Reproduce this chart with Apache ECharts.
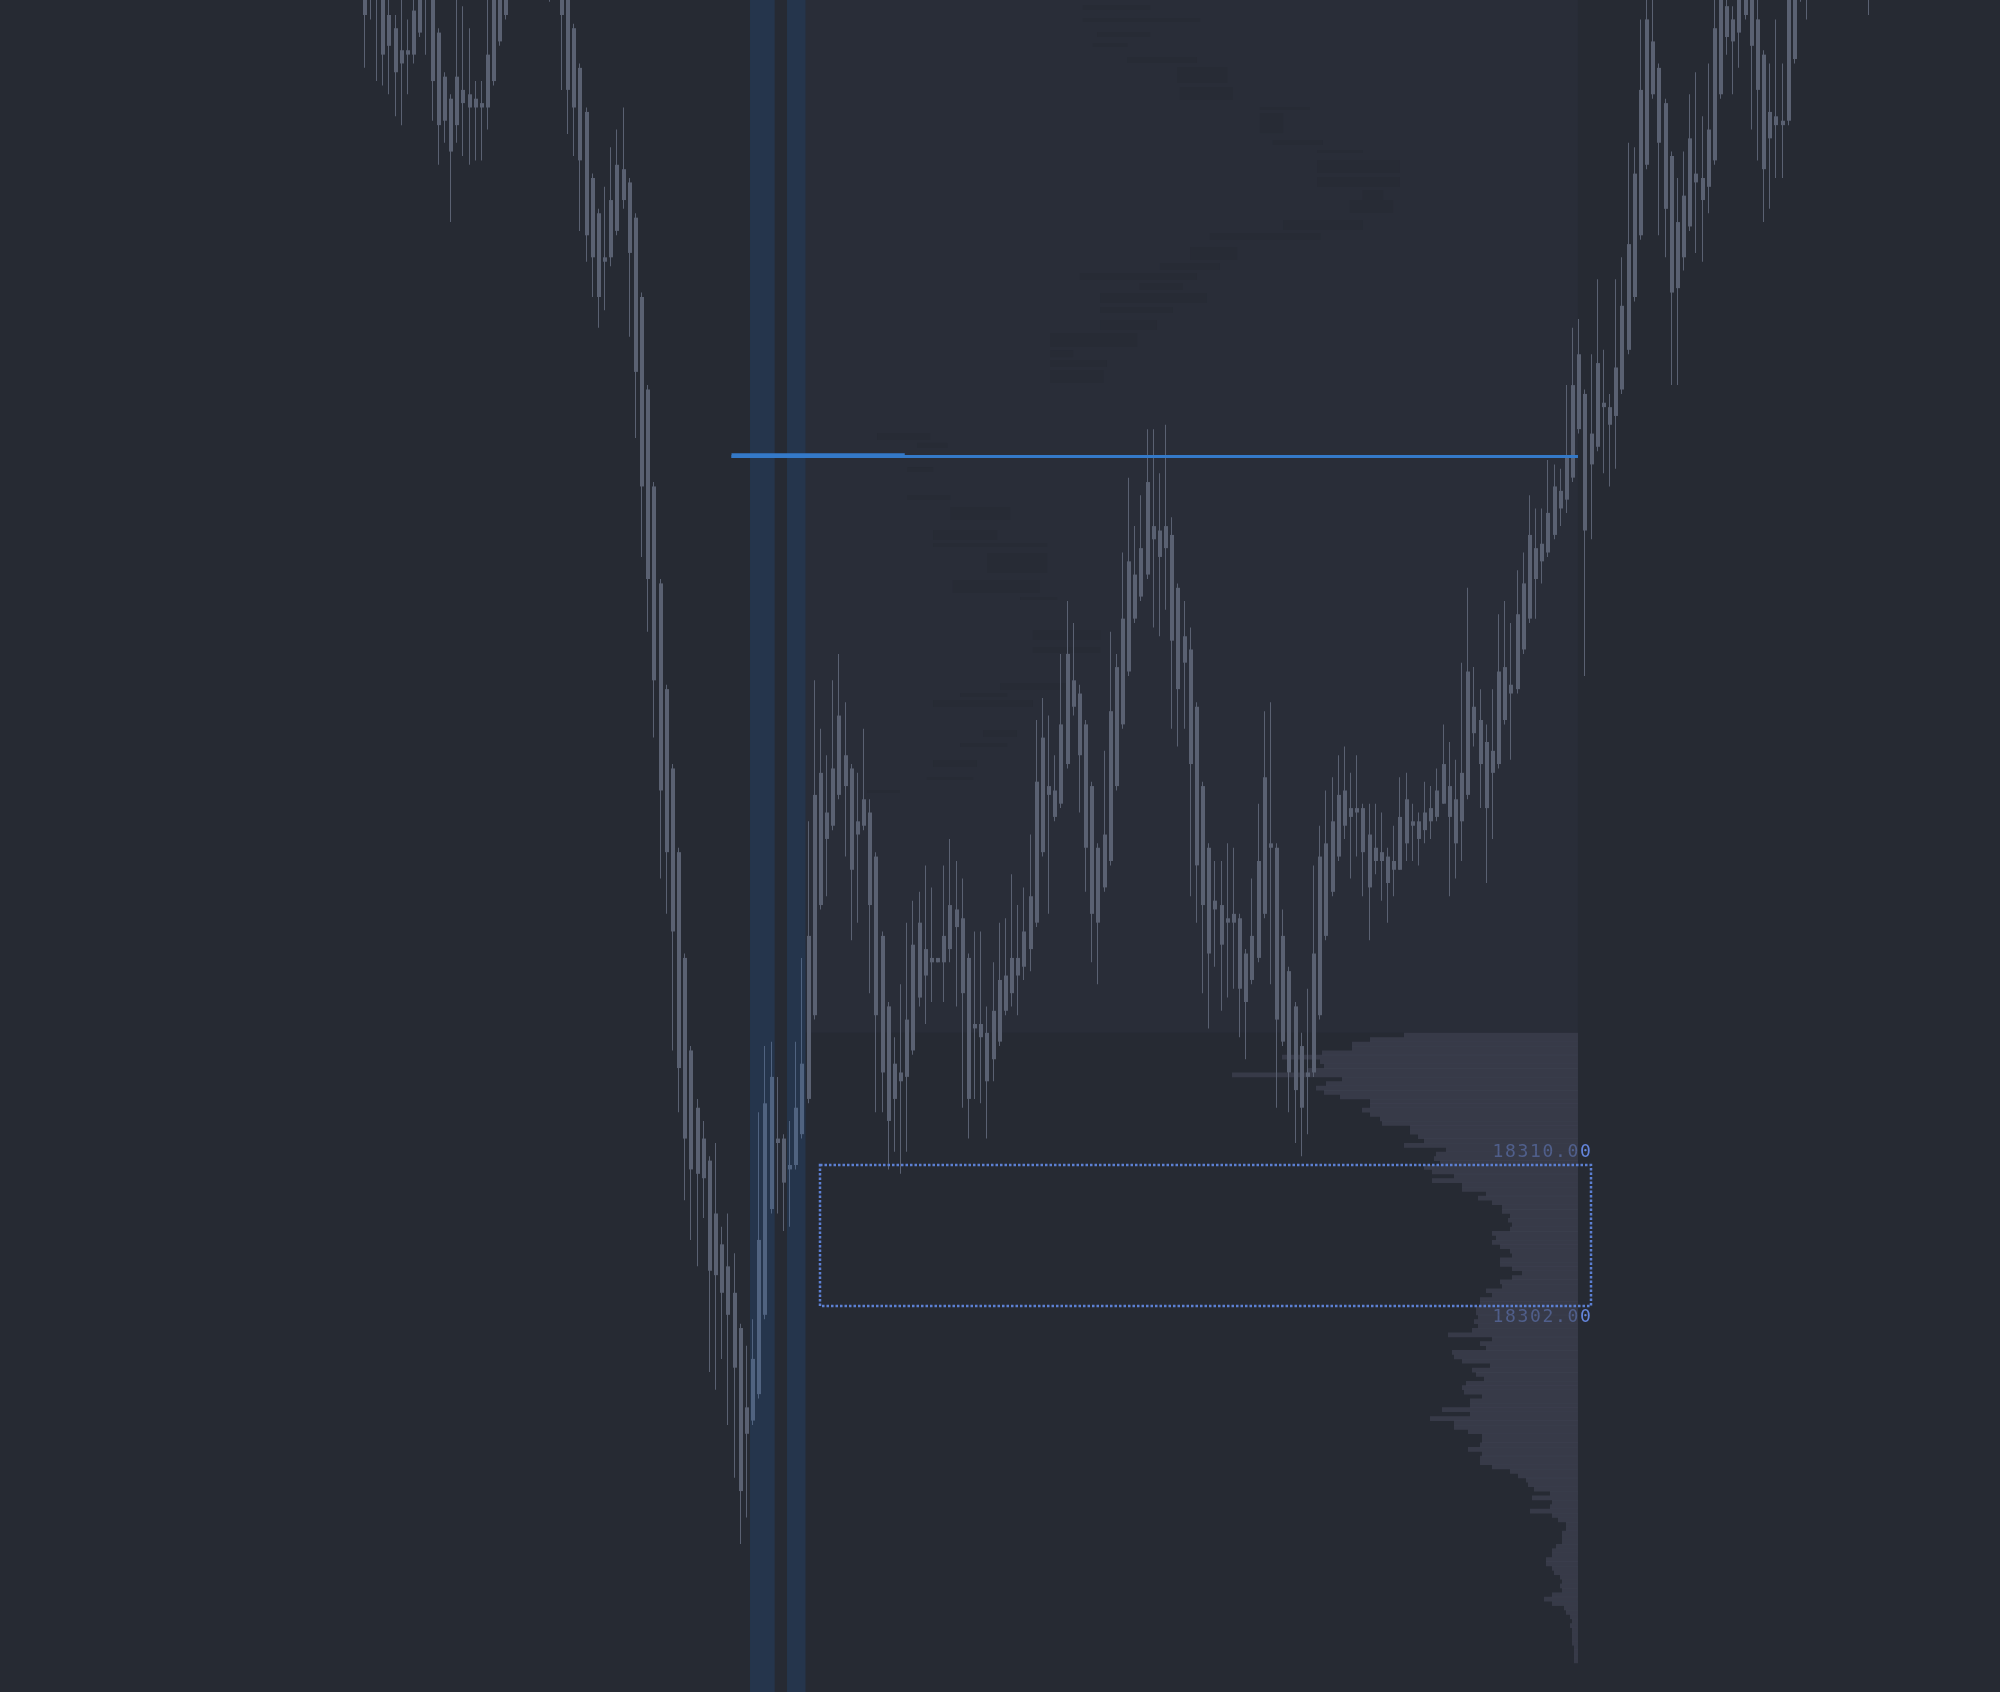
<!DOCTYPE html>
<html><head><meta charset="utf-8">
<script src="https://cdn.jsdelivr.net/npm/echarts@6/dist/echarts.min.js"></script>
<style>html,body{margin:0;padding:0;background:#262a33;}#c{width:2000px;height:1692px;}</style>
</head><body><div id="c"></div>
<script>
// ---- candle data (index = bar number) ----
const opens = [
18378.0,18378.5,18377.75,18377.5,18375.25,18374.5,18373.25,18373.25,18375.5,18377.0,
18378.0,18376.75,18374.25,18371.75,18370.5,18369.0,18371.0,18370.75,18370.5,18370.25,
18370.0,18371.5,18373.75,18375.25,18378.0,18379.5,18381.0,18380.0,18381.25,18380.25,
18378.5,18377.25,18378.0,18376.25,18374.5,18372.25,18369.75,18366.0,18364.0,18361.5,
18361.5,18363.0,18366.5,18365.75,18363.75,18359.25,18354.0,18348.5,18343.0,18337.0,
18332.5,18327.75,18321.75,18316.5,18313.25,18311.5,18310.25,18307.25,18305.5,18304.25,
18302.75,18300.75,18296.25,18295.5,18297.0,18301.5,18307.5,18311.5,18311.5,18310.0,
18310.0,18311.75,18313.75,18318.5,18324.75,18330.0,18329.25,18331.0,18333.25,18332.5,
18329.5,18329.25,18330.0,18327.5,18323.0,18319.0,18313.75,18314.75,18315.0,18316.5,
18319.5,18322.25,18321.75,18321.75,18321.5,18322.25,18324.5,18324.0,18321.75,18318.0,
18318.0,18317.5,18316.0,18317.0,18318.75,18319.75,18321.75,18321.25,18322.25,18323.75,
18327.75,18331.5,18331.25,18330.5,18332.75,18337.5,18336.75,18335.0,18331.5,18328.0,
18325.75,18327.25,18331.5,18335.0,18338.0,18343.5,18342.25,18343.5,18346.25,18346.0,
18345.0,18345.75,18342.75,18340.0,18339.25,18336.0,18331.5,18328.0,18325.0,18324.75,
18324.0,18324.25,18324.0,18322.0,18320.5,18321.75,18324.25,18328.25,18328.0,18317.0,
18321.0,18319.0,18316.75,18315.25,18315.25,18318.5,18323.0,18325.5,18327.5,18329.25,
18330.25,18330.25,18330.25,18328.75,18328.0,18327.75,18327.5,18327.25,18326.75,18328.25,
18329.5,18329.5,18329.0,18329.5,18329.75,18330.5,18331.5,18330.75,18329.5,18331.0,
18336.0,18335.25,18334.0,18332.25,18332.75,18338.25,18336.75,18337.0,18339.25,18341.0,
18345.0,18344.25,18344.75,18345.75,18348.25,18347.75,18349.0,18351.75,18353.75,18349.75,
18350.75,18353.25,18353.0,18352.5,18354.0,18356.25,18359.25,18362.75,18366.75,18373.75,
18372.25,18370.25,18367.25,18359.75,18365.0,18363.25,18366.25,18366.0,18365.5,18367.0,
18370.75,18375.75,18375.0,18376.5,18377.5,18377.0,18375.0,18373.0,18369.75,18369.5,
18369.25,18369.25,18372.75,18376.25,18379.0,18379.0,18380.5,18379.5,18381.0,18382.25,
18381.0,18380.0,18378.5,18379.25,18378.25];
const closes = [
18375.25,18377.0,18376.5,18373.0,18373.5,18372.0,18372.5,18373.0,18373.0,18374.25,
18376.75,18371.5,18369.0,18369.25,18367.5,18371.75,18370.25,18370.0,18370.0,18370.0,
18373.0,18376.5,18377.0,18378.0,18379.5,18381.0,18380.0,18381.25,18380.25,18378.5,
18377.25,18378.0,18375.25,18371.0,18370.0,18367.0,18362.75,18361.5,18359.25,18361.25,
18364.75,18366.75,18364.75,18361.75,18355.0,18348.5,18343.25,18337.5,18331.25,18327.75,
18323.25,18315.5,18311.5,18309.75,18309.5,18309.25,18304.0,18303.75,18302.75,18301.5,
18298.5,18291.5,18294.75,18299.0,18305.75,18313.5,18315.0,18311.25,18309.0,18309.75,
18313.25,18315.75,18323.0,18331.0,18332.25,18328.5,18332.5,18335.5,18331.5,18326.75,
18328.75,18330.75,18324.75,18318.5,18315.25,18312.5,18315.75,18315.25,18318.25,18322.5,
18323.75,18320.75,18321.5,18321.5,18323.0,18324.75,18323.5,18319.75,18313.75,18317.75,
18317.25,18314.75,18318.75,18320.5,18320.75,18321.75,18320.75,18323.25,18325.25,18331.75,
18334.25,18331.0,18329.75,18335.0,18339.0,18336.0,18333.25,18328.0,18324.25,18323.75,
18328.75,18335.75,18338.25,18341.0,18344.25,18341.0,18345.0,18348.75,18345.5,18344.5,
18346.25,18339.75,18337.0,18338.5,18332.75,18327.0,18324.75,18322.0,18324.5,18322.5,
18323.75,18323.75,18320.0,18319.25,18323.0,18327.25,18332.0,18328.0,18318.25,18323.0,
18315.25,18314.25,18313.25,18315.0,18322.0,18327.5,18328.25,18329.5,18331.0,18331.25,
18329.75,18330.0,18327.75,18325.75,18327.25,18327.25,18326.0,18326.75,18329.75,18330.75,
18329.25,18328.5,18330.0,18330.25,18331.25,18332.75,18329.75,18328.25,18332.25,18338.0,
18334.5,18332.75,18330.25,18333.5,18338.0,18335.25,18337.25,18341.25,18343.0,18345.75,
18343.25,18345.25,18347.0,18348.5,18347.25,18350.25,18354.25,18356.0,18346.0,18351.5,
18355.5,18353.0,18352.0,18355.25,18358.75,18362.25,18366.25,18371.0,18375.0,18370.75,
18368.0,18364.25,18359.5,18363.5,18361.5,18368.25,18365.75,18364.75,18368.75,18374.5,
18376.75,18374.0,18373.75,18374.25,18375.25,18373.5,18371.0,18366.5,18368.25,18369.0,
18369.0,18376.5,18377.5,18379.0,18377.75,18380.5,18379.5,18381.0,18382.25,18381.0,
18380.0,18378.5,18379.25,18378.25,18377.0];
const lows = [
18372.25,18375.0,18371.5,18371.25,18370.75,18369.5,18369.0,18370.75,18372.5,18374.0,
18373.0,18369.25,18366.75,18368.0,18363.5,18368.0,18367.25,18366.75,18367.0,18367.0,
18368.75,18371.25,18373.5,18375.0,18377.5,18378.75,18379.25,18379.5,18379.0,18377.5,
18376.0,18376.5,18371.0,18368.5,18367.25,18363.0,18361.25,18359.25,18357.5,18358.5,
18361.0,18362.75,18364.25,18357.0,18351.25,18344.5,18340.25,18334.25,18326.25,18324.25,
18316.5,18313.0,18308.0,18305.75,18304.25,18307.0,18298.25,18297.25,18299.0,18295.25,
18292.25,18288.5,18290.0,18295.25,18296.75,18301.25,18307.25,18307.25,18306.25,18306.5,
18309.75,18311.5,18313.5,18318.25,18324.5,18325.25,18329.0,18330.75,18327.5,18322.75,
18323.75,18329.0,18319.75,18313.0,18313.0,18309.75,18310.75,18309.5,18310.75,18316.25,
18319.0,18318.0,18319.25,18321.5,18319.25,18321.5,18319.0,18313.25,18311.5,18313.75,
18313.5,18311.5,18314.75,18316.75,18318.5,18319.0,18318.5,18320.5,18321.0,18323.5,
18327.5,18324.25,18329.5,18330.25,18332.5,18335.5,18330.0,18325.5,18321.5,18320.25,
18325.5,18327.0,18331.25,18334.75,18337.75,18340.75,18342.0,18343.25,18340.5,18340.0,
18341.5,18334.75,18333.75,18334.75,18325.25,18323.75,18319.75,18317.75,18321.25,18318.75,
18319.5,18320.0,18317.25,18316.0,18320.25,18321.5,18324.0,18320.25,18313.25,18316.75,
18313.0,18311.25,18310.5,18311.75,18315.0,18318.25,18322.75,18325.25,18327.25,18328.5,
18326.25,18327.5,18325.25,18322.75,18326.5,18325.0,18323.75,18325.25,18326.75,18327.25,
18327.25,18327.0,18328.25,18328.5,18329.5,18330.5,18325.25,18326.25,18327.25,18330.75,
18333.75,18330.25,18326.0,18328.5,18332.5,18335.0,18333.0,18336.75,18339.0,18340.75,
18341.0,18343.0,18344.5,18345.5,18346.25,18347.0,18348.75,18351.5,18337.75,18345.5,
18350.5,18349.25,18348.5,18349.5,18353.75,18356.0,18359.0,18362.5,18366.5,18370.5,
18362.75,18361.5,18354.25,18354.25,18360.75,18363.0,18361.75,18361.25,18364.0,18366.75,
18370.5,18373.0,18370.75,18372.25,18375.0,18368.75,18367.0,18363.5,18364.25,18366.0,
18366.0,18369.0,18372.5,18376.0,18375.0,18378.25,18378.5,18379.0,18380.25,18380.5,
18378.75,18377.5,18377.25,18377.0,18375.25];
const highs = [
18379.5,18379.0,18378.5,18378.25,18377.0,18375.25,18376.5,18375.0,18376.5,18377.5,
18378.75,18377.25,18374.5,18372.0,18370.75,18376.5,18375.75,18374.5,18371.5,18371.5,
18376.25,18377.0,18377.75,18378.5,18380.25,18381.5,18382.0,18382.25,18381.75,18380.75,
18379.0,18378.75,18378.5,18376.75,18374.75,18372.5,18370.0,18366.25,18364.25,18365.5,
18367.75,18368.75,18370.0,18366.0,18364.0,18359.5,18354.25,18348.75,18343.25,18337.25,
18332.75,18328.0,18322.0,18316.75,18313.75,18312.5,18310.5,18311.25,18306.5,18307.25,
18305.0,18301.0,18299.75,18301.25,18313.0,18316.75,18317.0,18315.0,18311.75,18312.5,
18317.0,18321.75,18329.5,18337.5,18334.75,18333.25,18337.5,18339.0,18336.25,18332.75,
18332.25,18334.75,18330.75,18327.75,18323.25,18319.25,18317.25,18320.25,18323.75,18325.0,
18325.5,18327.0,18325.75,18321.75,18327.0,18328.5,18327.25,18326.25,18322.0,18323.25,
18323.25,18319.0,18321.5,18323.75,18324.0,18326.5,18324.75,18325.75,18328.75,18335.25,
18336.5,18335.5,18333.25,18339.0,18342.0,18340.75,18337.25,18335.25,18331.75,18328.25,
18333.5,18340.25,18339.0,18344.75,18349.0,18346.25,18348.0,18351.75,18351.75,18349.25,
18352.0,18346.75,18343.0,18342.0,18340.5,18336.25,18331.75,18328.25,18327.25,18327.25,
18328.25,18328.0,18324.25,18322.25,18326.25,18330.5,18335.75,18336.25,18328.25,18324.5,
18321.25,18319.25,18317.5,18320.0,18327.0,18329.25,18331.25,18332.0,18333.25,18333.75,
18332.25,18333.25,18330.5,18330.5,18330.5,18330.0,18328.0,18329.25,18332.0,18332.25,
18330.5,18330.0,18331.75,18331.5,18332.5,18335.0,18334.0,18333.0,18338.5,18342.75,
18338.25,18337.0,18335.0,18337.0,18341.25,18342.0,18340.75,18343.75,18344.75,18348.0,
18347.25,18347.25,18350.0,18349.75,18349.5,18354.25,18357.5,18358.0,18354.0,18356.0,
18360.25,18356.25,18353.75,18360.25,18361.5,18368.0,18367.75,18375.0,18377.0,18376.5,
18372.5,18370.5,18367.5,18366.0,18367.5,18370.75,18372.0,18369.5,18372.5,18376.5,
18377.25,18376.25,18375.75,18377.0,18378.0,18377.75,18376.5,18373.25,18372.5,18375.0,
18372.5,18377.0,18378.0,18379.5,18379.5,18381.0,18381.25,18381.75,18382.75,18383.0,
18381.5,18380.5,18380.0,18379.75,18378.75];

// ---- volume profile (0.25 levels, from top price downwards) ----
const profileTopPrice = 18317.5;
const profileTick = 0.25;
const profileVolumes = [
87,104,113,113,128,148,129,127,135,173,
118,126,131,127,119,104,104,108,104,99,
98,84,84,80,77,87,66,71,72,69,
77,73,62,73,58,58,46,50,43,38,
38,34,35,33,34,43,41,43,39,34,
33,39,39,33,28,33,39,38,46,43,
49,49,51,51,50,52,50,53,65,43,
49,46,63,62,58,44,53,51,47,56,
58,57,48,54,54,68,54,74,62,62,
55,48,48,49,55,48,49,49,43,34,
30,26,25,22,14,23,13,14,24,13,
10,6,6,8,8,8,11,13,13,16,
16,13,12,9,8,9,8,13,17,13,
7,6,4,3,4,3,3,3,3,2,
2,2,2];

// ---- faint liquidity streaks in the upper zone: [high price, low price, from bar, to bar] ----
const streakHigh = [18375.82,18375.08,18374.28,18373.66,18372.87,18372.30,18371.16,18370.03,18369.69,18368.16,
  18367.59,18367.02,18366.06,18365.32,18364.75,18363.62,18362.88,18362.09,18361.18,18360.61,
  18360.04,18359.48,18358.68,18357.94,18357.21,18356.24,18355.67,18355.11,
  18351.53,18350.97,18349.60,18348.02,18347.33,18346.03,18345.29,18344.72,18343.19,18342.23,
  18340.36,18339.39,18337.35,18336.78,18336.38,18334.68,18333.94,18332.98,18332.02,18331.28];
const streakLow = [18375.53,18374.85,18374.00,18373.43,18372.53,18371.39,18370.43,18369.86,18368.55,18367.87,
  18367.42,18366.28,18365.49,18364.75,18364.01,18363.05,18362.48,18361.35,18360.78,18360.21,
  18359.65,18358.91,18358.34,18357.38,18356.41,18355.84,18355.28,18354.37,
  18351.14,18350.68,18349.32,18347.73,18346.60,18345.46,18345.06,18343.59,18342.45,18342.06,
  18339.79,18339.05,18336.95,18336.55,18335.99,18334.28,18333.72,18332.58,18331.84,18331.11];
const streakFrom = [116.5,116.5,118.8,118.1,123.7,131.8,132.2,145.2,145.2,147.3,
  154.5,154.5,154.5,161.9,159.8,149.0,137.1,133.9,129.0,116.0,
  125.7,119.3,119.3,119.3,111.2,111.2,111.2,111.2,
  83.1,89.6,88.0,88.0,95.0,92.2,92.2,101.0,95.4,106.3,
  108.4,108.4,103.1,96.6,92.2,100.3,96.6,92.2,91.2,81.5];
const streakTo = [127.4,135.5,127.4,123.7,135.0,139.9,140.8,153.3,149.0,155.4,
  161.9,167.9,167.9,165.2,166.8,161.9,155.0,141.5,138.7,135.0,
  132.7,136.6,131.1,128.5,125.3,114.9,120.4,119.8,
  91.7,94.5,92.2,95.0,104.7,102.6,110.7,110.7,109.5,112.3,
  119.3,119.3,113.9,104.2,108.4,105.8,104.2,99.3,98.7,86.8];

// ---- annotations ----
const sessionBands = [[62.5, 66.5], [68.5, 71.5]];   // bar index ranges
const levelPrice = 18350.2;
const levelHeavyPrice = 18350.25;
const levelStart = 59.5, levelHeavyEnd = 87.6, profileRight = 196.8, zoneLeft = 71.5;
const boxHigh = 18310.0, boxLow = 18302.0;
const boxStart = 73.85, boxEnd = 198.9;
const boxLabels = ['18310.00', '18302.00'];

const X_MIN = -59.157, X_MAX = 265.255, Y_MIN = 18280.1, Y_MAX = 18376.1;
const PROFILE_UNIT = 0.3244; // bar-index width per contract

const CANDLE = '#5a6172';
const chart = echarts.init(document.getElementById('c'), null, {renderer: 'canvas', width: 2000, height: 1692});

const candleData = opens.map((o, i) => [i, o, closes[i], lows[i], highs[i]]);
const streakData = streakHigh.map((h, i) => [streakFrom[i], h, streakTo[i], streakLow[i]]);

chart.setOption({
  backgroundColor: '#262a33',
  animation: false,
  grid: {left: 0, right: 0, top: 0, bottom: 0},
  xAxis: {type: 'value', min: X_MIN, max: X_MAX, show: false},
  yAxis: {type: 'value', min: Y_MIN, max: Y_MAX, show: false},
  series: [
    { // zone background
      type: 'custom', z: 1, clip: false, silent: true, data: [[0, 0]],
      renderItem: (p, api) => {
        const a = api.coord([zoneLeft, Y_MAX]);
        const b = api.coord([profileRight, profileTopPrice]);
        return {type: 'rect', shape: {x: a[0], y: a[1], width: b[0] - a[0], height: b[1] - a[1]},
                style: {fill: '#292d38'}};
      }
    },
    { // faint streaks
      type: 'custom', z: 1.5, clip: false, silent: true, data: streakData,
      renderItem: (p, api) => {
        const a = api.coord([api.value(0), api.value(1)]);
        const b = api.coord([api.value(2), api.value(3)]);
        return {type: 'rect', shape: {x: a[0], y: a[1], width: b[0] - a[0], height: Math.max(1.5, b[1] - a[1])},
                style: {fill: '#272b35'}};
      }
    },
    { // box labels (under the profile overlay)
      type: 'custom', z: 2, clip: false, silent: true, data: [[0, 0]],
      renderItem: (p, api) => {
        const right = api.coord([boxEnd, boxHigh])[0];
        const yTop = api.coord([boxEnd, boxHigh])[1];
        const yBot = api.coord([boxEnd, boxLow])[1];
        const kids = [];
        [[boxLabels[0], yTop - 13], [boxLabels[1], yBot + 11]].forEach(([txt, yc]) => {
          const n = txt.length;
          for (let j = 0; j < n; j++) {
            kids.push({type: 'text', x: right - 5.5 - (n - 1 - j) * 12.5, y: yc,
              style: {text: txt[j], fill: '#6485dc', font: '18px "DejaVu Sans Mono"',
                      align: 'center', verticalAlign: 'middle', textAlign: 'center', textVerticalAlign: 'middle'}});
          }
        });
        return {type: 'group', children: kids};
      }
    },
    { // volume profile
      type: 'custom', z: 3, clip: false, silent: true,
      data: profileVolumes.map((v, k) => [k, v]),
      renderItem: (p, api) => {
        const k = api.value(0), v = api.value(1);
        const top = profileTopPrice - k * profileTick;
        const a = api.coord([profileRight - v * PROFILE_UNIT, top]);
        const b = api.coord([profileRight, top - profileTick]);
        return {type: 'rect', shape: {x: a[0], y: a[1], width: b[0] - a[0], height: b[1] - a[1] + 0.3},
                style: {fill: 'rgba(66,70,87,0.6)'}};
      }
    },
    { // candles
      type: 'custom', z: 4, clip: true, silent: true,
      data: candleData,
      encode: {x: 0, y: [1, 2, 3, 4]},
      renderItem: (p, api) => {
        const i = api.value(0), o = api.value(1), c = api.value(2), l = api.value(3), h = api.value(4);
        const pH = api.coord([i, h]), pL = api.coord([i, l]);
        const pO = api.coord([i, o]), pC = api.coord([i, c]);
        const bx = Math.round(pH[0] - 2);
        const top = Math.min(pO[1], pC[1]), bot = Math.max(pO[1], pC[1]);
        return {type: 'group', children: [
          {type: 'rect', shape: {x: bx + 1, y: pH[1], width: 1, height: pL[1] - pH[1]}, style: {fill: CANDLE}},
          {type: 'rect', shape: {x: bx, y: top, width: 4, height: Math.max(1.5, bot - top)}, style: {fill: CANDLE}}
        ]};
      }
    },
    { // session bands
      type: 'custom', z: 5, clip: false, silent: true,
      data: sessionBands,
      renderItem: (p, api) => {
        const a = api.coord([api.value(0), Y_MAX]);
        const b = api.coord([api.value(1), Y_MIN]);
        return {type: 'rect', shape: {x: a[0], y: a[1], width: b[0] - a[0], height: b[1] - a[1]},
                style: {fill: 'rgba(35,110,200,0.17)'}};
      }
    },
    { // level line and box
      type: 'custom', z: 6, clip: false, silent: true, data: [[0, 0]],
      renderItem: (p, api) => {
        const l1 = api.coord([levelStart, levelPrice]), l2 = api.coord([profileRight, levelPrice]);
        const h1 = api.coord([levelStart, levelHeavyPrice]), h2 = api.coord([levelHeavyEnd, levelHeavyPrice]);
        const b1 = api.coord([boxStart, boxHigh]), b2 = api.coord([boxEnd, boxLow]);
        const x1 = Math.round(b1[0]), y1 = Math.round(b1[1]), x2 = Math.round(b2[0]), y2 = Math.round(b2[1]);
        return {type: 'group', children: [
          {type: 'line', shape: {x1: l1[0], y1: l1[1], x2: l2[0], y2: l2[1]}, style: {stroke: '#3479c8', lineWidth: 3}},
          {type: 'line', shape: {x1: h1[0], y1: h1[1], x2: h2[0], y2: h2[1]}, style: {stroke: '#3479c8', lineWidth: 4.6}},
          {type: 'rect', shape: {x: x1, y: y1, width: x2 - x1, height: y2 - y1},
           style: {fill: 'none', stroke: '#5c80d4', lineWidth: 2.5, lineDash: [2.5, 2]}}
        ]};
      }
    }
  ]
});
</script>
</body></html>
